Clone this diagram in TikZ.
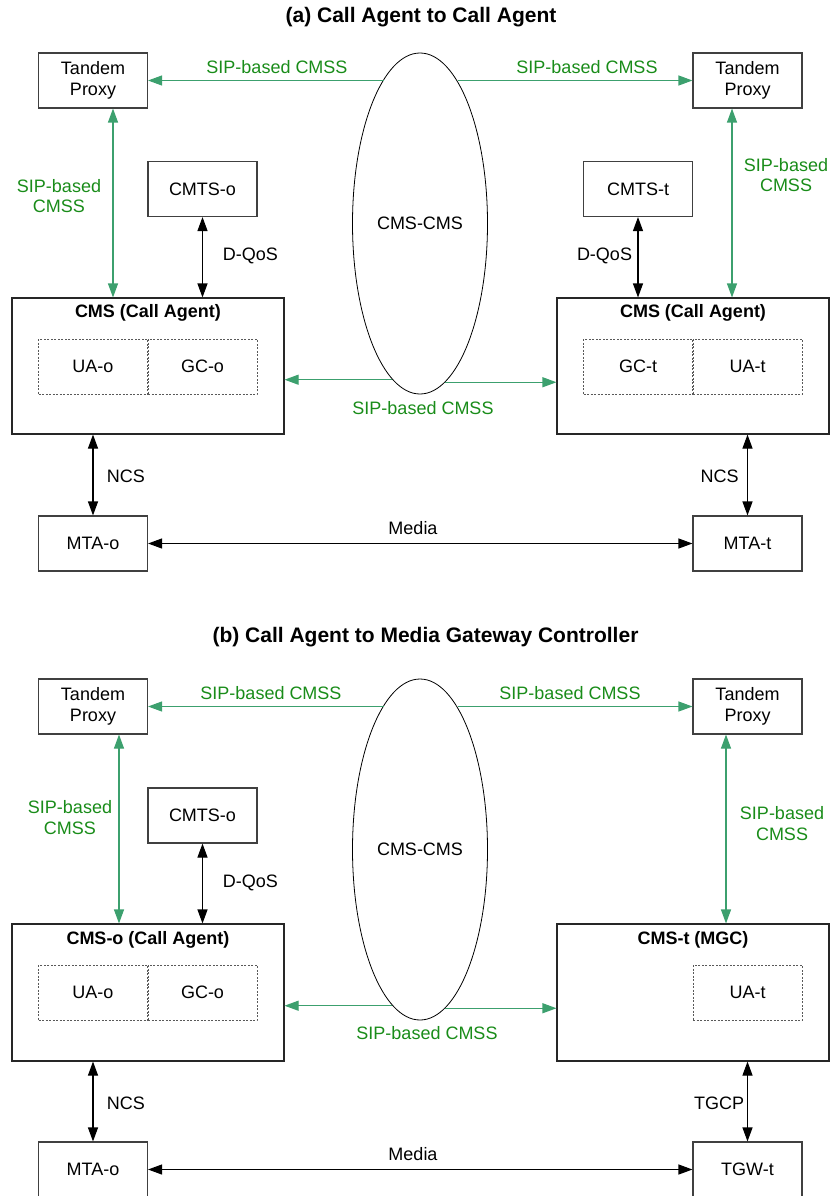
\documentclass[tikz,border=0pt]{standalone}
\usepackage{fontspec}
\setmainfont{Liberation Sans}
\usetikzlibrary{shapes.geometric,arrows.meta}
\definecolor{sipline}{RGB}{60,160,110}
\definecolor{siptext}{RGB}{25,140,25}

\begin{document}
\begin{tikzpicture}[x=1pt, y=-1pt, font=\fontsize{18}{20.5}\selectfont, >={Triangle[length=14pt,width=10pt]}]
        \tikzstyle{every node}=[inner sep=0pt, align=center]
        \tikzstyle{box}=[draw=black!75, line width=1.1pt, minimum width=109pt, minimum height=55pt]
        \tikzstyle{cms}=[draw=black!85, line width=1.1pt, minimum width=272pt, minimum height=136pt]
        \tikzstyle{sub}=[draw=black!65, line width=0.9pt, dash pattern=on 2pt off 1.5pt, minimum width=109pt, minimum height=55pt]
        \tikzstyle{cloud}=[draw, ellipse, line width=0.8pt, minimum width=135pt, minimum height=341pt]
        \tikzstyle{head}=[font=\fontsize{18}{20.5}\selectfont\bfseries]
        \tikzstyle{title}=[font=\fontsize{21}{24}\selectfont\bfseries]
        \tikzstyle{sig}=[line width=1.1pt, black]
        \tikzstyle{cmss}=[line width=1.1pt, sipline]
        \tikzstyle{glab}=[text=siptext]
        \useasboundingbox (0,0) rectangle (833,1196);
        % (a) call agent to call agent
        \node[title] (ta) at (421,17) {(a) Call Agent to Call Agent};
        \node[box] (tpLa) at (93,80.5) {Tandem\\Proxy};
        \node[box] (tpRa) at (747.5,80.5) {Tandem\\Proxy};
        \node[box] (cmtsOa) at (202.5,189) {CMTS-o};
        \node[box] (cmtsTa) at (638,189) {CMTS-t};
        \node[cloud] (cmsa) at (420,223.5) {CMS-CMS};
        \node[cms] (cmsOa) at (148,366) {};
        \node[head] (hOa) at ([yshift=-15pt]cmsOa.north) {CMS (Call Agent)};
        \node[sub] (uaOa) at (93,366.5) {UA-o};
        \node[sub] (gcOa) at (202.5,366.5) {GC-o};
        \node[cms] (cmsTa) at (693,366) {};
        \node[head] (hTa) at ([yshift=-15pt]cmsTa.north) {CMS (Call Agent)};
        \node[sub] (gcTa) at (638,366.5) {GC-t};
        \node[sub] (uaTa) at (747.5,366.5) {UA-t};
        \node[box] (mtaOa) at (93,543.5) {MTA-o};
        \node[box] (mtaTa) at (747.5,543.5) {MTA-t};
        \draw[cmss,<-] (tpLa.east) -- (tpLa.east -| cmsa.104.6);
        \draw[cmss,->] (tpRa.west -| cmsa.75.4) -- (tpRa.west);
        \draw[cmss,<->] ([xshift=20pt]tpLa.south) -- ([xshift=20pt]tpLa.south |- cmsOa.north);
        \draw[cmss,<->] ([xshift=-15.5pt]tpRa.south) -- ([xshift=-15.5pt]tpRa.south |- cmsTa.north);
        \draw[sig,<->] (cmtsOa.south) -- (cmtsOa.south |- cmsOa.north);
        \draw[sig,<->] (cmtsTa.south) -- (cmtsTa.south |- cmsTa.north);
        \draw[cmss,<-] (cmsOa.east |- cmsa.260.3) -- (cmsa.260.3);
        \draw[cmss,->] (cmsa.279.7) -- (cmsa.279.7 -| cmsTa.west);
        \draw[sig,<->] (mtaOa.north |- cmsOa.south) -- (mtaOa.north);
        \draw[sig,<->] (mtaTa.north |- cmsTa.south) -- (mtaTa.north);
        \draw[sig,<->] (mtaOa.east) -- (mtaTa.west);
        \node[glab] (s1a) at (277,67) {SIP-based CMSS};
        \node[glab] (s2a) at (587,67) {SIP-based CMSS};
        \node[glab] (s3a) at (59,196) {SIP-based\\CMSS};
        \node[glab] (s4a) at (786,175) {SIP-based\\CMSS};
        \node[glab] (s5a) at (423,408) {SIP-based CMSS};
        \node (dqOa) at (250.5,256) {D-QoS};
        \node (dqTa) at (604.5,256) {D-QoS};
        \node (ncsOa) at (126,476) {NCS};
        \node (ncsTa) at (719.5,476) {NCS};
        \node (meda) at (413,528) {Media};
        % (b) call agent to media gateway controller
        \node[title] (tb) at (425.5,637) {(b) Call Agent to Media Gateway Controller};
        \node[box] (tpLb) at (93,706.5) {Tandem\\Proxy};
        \node[box] (tpRb) at (747.5,706.5) {Tandem\\Proxy};
        \node[box] (cmtsOb) at (202.5,815.5) {CMTS-o};
        \node[cloud] (cmsb) at (420,849.5) {CMS-CMS};
        \node[cms, minimum height=137pt] (cmsOb) at (148,992.5) {};
        \node[head] (hOb) at ([yshift=-16pt]cmsOb.north) {CMS-o (Call Agent)};
        \node[sub] (uaOb) at (93,992.5) {UA-o};
        \node[sub] (gcOb) at (202.5,992.5) {GC-o};
        \node[cms, minimum height=137pt] (cmsTb) at (693,992.5) {};
        \node[head] (hTb) at ([yshift=-16pt]cmsTb.north) {CMS-t (MGC)};
        \node[sub] (uaTb) at (747.5,992.5) {UA-t};
        \node[box] (mtaOb) at (93,1169.5) {MTA-o};
        \node[box] (tgwTb) at (747.5,1169.5) {TGW-t};
        \draw[cmss,<-] (tpLb.east) -- (tpLb.east -| cmsb.104.6);
        \draw[cmss,->] (tpRb.west -| cmsb.75.4) -- (tpRb.west);
        \draw[cmss,<->] ([xshift=26pt]tpLb.south) -- ([xshift=26pt]tpLb.south |- cmsOb.north);
        \draw[cmss,<->] ([xshift=-21.5pt]tpRb.south) -- ([xshift=-21.5pt]tpRb.south |- cmsTb.north);
        \draw[sig,<->] (cmtsOb.south) -- (cmtsOb.south |- cmsOb.north);
        \draw[cmss,<-] (cmsOb.east |- cmsb.260.3) -- (cmsb.260.3);
        \draw[cmss,->] (cmsb.279.7) -- (cmsb.279.7 -| cmsTb.west);
        \draw[sig,<->] (mtaOb.north |- cmsOb.south) -- (mtaOb.north);
        \draw[sig,<->] (tgwTb.north |- cmsTb.south) -- (tgwTb.north);
        \draw[sig,<->] (mtaOb.east) -- (tgwTb.west);
        \node[glab] (s1b) at (271,693) {SIP-based CMSS};
        \node[glab] (s2b) at (570,693) {SIP-based CMSS};
        \node[glab] (s3b) at (70,817.5) {SIP-based\\CMSS};
        \node[glab] (s4b) at (782,823.5) {SIP-based\\CMSS};
        \node[glab] (s5b) at (427,1033) {SIP-based CMSS};
        \node (dqOb) at (250.5,883) {D-QoS};
        \node (ncsOb) at (126,1103) {NCS};
        \node (tgcpb) at (719,1103) {TGCP};
        \node (medb) at (413,1154) {Media};
    \end{tikzpicture}
\end{document}
